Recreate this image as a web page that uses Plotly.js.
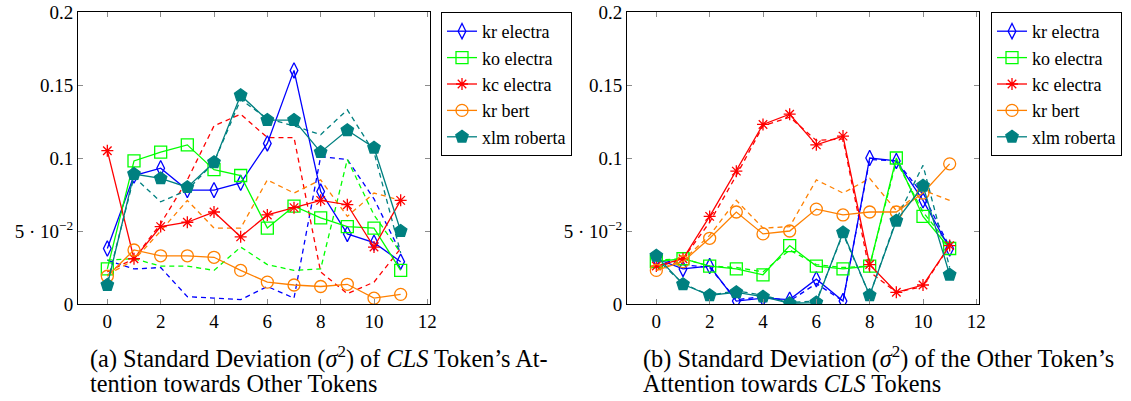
<!DOCTYPE html>
<html>
<head>
<meta charset="utf-8">
<script src="https://cdn.plot.ly/plotly-3.0.1.min.js"></script>
<style>html,body{margin:0;padding:0;background:#fff;}#chart{width:1131px;height:401px;}</style>
</head>
<body>
<div id="chart"></div>
<script>
// ---- data ----
const layers = [0,1,2,3,4,5,6,7,8,9,10,11];
const seriesNames = ["kr electra","ko electra","kc electra","kr bert","xlm roberta"];
const xTicks = [0,2,4,6,8,10,12];
const yTicks = [0,0.05,0.1,0.15,0.2];
const yTickText = ["0","5 · 10<sup>−2</sup>","0.1","0.15","0.2"];

// (a) CLS token's attention towards other tokens
const a_kr_electra      = [0.038,0.088,0.093,0.078,0.078,0.083,0.110,0.160,0.077,0.048,0.042,0.029];
const a_kr_electra_dash = [0.030,0.024,0.025,0.005,0.004,0.003,0.012,0.004,0.101,0.099,0.072,0.035];
const a_ko_electra      = [0.024,0.098,0.104,0.109,0.092,0.088,0.052,0.067,0.059,0.053,0.052,0.023];
const a_ko_electra_dash = [0.030,0.031,0.026,0.026,0.023,0.039,0.027,0.023,0.024,0.099,0.061,0.035];
const a_kc_electra      = [0.105,0.031,0.053,0.056,0.063,0.046,0.061,0.066,0.071,0.068,0.039,0.071];
const a_kc_electra_dash = [0.022,0.031,0.055,0.085,0.122,0.130,0.114,0.114,0.022,0.007,0.015,0.038];
const a_kr_bert         = [0.019,0.037,0.033,0.033,0.032,0.023,0.015,0.013,0.012,0.0135,0.004,0.0066];
const a_kr_bert_dash    = [0.020,0.030,0.050,0.071,0.052,0.052,0.085,0.076,0.085,0.060,0.076,0.071];
const a_xlm_roberta     = [0.013,0.089,0.086,0.080,0.097,0.143,0.126,0.126,0.104,0.119,0.107,0.050];
const a_xlm_roberta_dash= [0.015,0.087,0.070,0.078,0.097,0.140,0.127,0.122,0.116,0.133,0.104,0.035];

// (b) other tokens' attention towards CLS token
const b_kr_electra      = [0.031,0.024,0.026,0.002,0.004,0.003,0.017,0.002,0.100,0.098,0.071,0.038];
const b_kr_electra_dash = [0.031,0.027,0.025,0.003,0.005,0.002,0.014,0.002,0.099,0.098,0.075,0.039];
const b_ko_electra      = [0.029,0.031,0.026,0.024,0.020,0.040,0.026,0.024,0.026,0.100,0.060,0.038];
const b_ko_electra_dash = [0.030,0.031,0.026,0.025,0.022,0.037,0.027,0.025,0.026,0.098,0.063,0.040];
const b_kc_electra      = [0.026,0.031,0.060,0.091,0.123,0.130,0.109,0.115,0.027,0.008,0.013,0.040];
const b_kc_electra_dash = [0.025,0.031,0.056,0.088,0.122,0.128,0.112,0.113,0.022,0.008,0.012,0.040];
const b_kr_bert         = [0.023,0.029,0.045,0.063,0.048,0.050,0.065,0.061,0.063,0.063,0.076,0.096];
const b_kr_bert_dash    = [0.023,0.030,0.047,0.071,0.052,0.053,0.085,0.076,0.086,0.064,0.078,0.071];
const b_xlm_roberta     = [0.033,0.0135,0.006,0.008,0.005,0.0005,0.001,0.049,0.006,0.057,0.081,0.020];
const b_xlm_roberta_dash= [0.031,0.014,0.006,0.009,0.006,0.001,0.002,0.048,0.006,0.058,0.095,0.025];

// ---- styles ----
const colors  = ["#0000ff","#00ff00","#ff0000","#ff8000","#008080"];
const symbols = ["diamond-tall-open","square-open","asterisk-open","circle-open","pentagon"];
const msizes  = [11,12,10,12,13];

const aSolid = [a_kr_electra,a_ko_electra,a_kc_electra,a_kr_bert,a_xlm_roberta];
const aDash  = [a_kr_electra_dash,a_ko_electra_dash,a_kc_electra_dash,a_kr_bert_dash,a_xlm_roberta_dash];
const bSolid = [b_kr_electra,b_ko_electra,b_kc_electra,b_kr_bert,b_xlm_roberta];
const bDash  = [b_kr_electra_dash,b_ko_electra_dash,b_kc_electra_dash,b_kr_bert_dash,b_xlm_roberta_dash];

const traces = [];
function addPanel(solid, dash, xa, ya, leg){
  for (let i=0;i<seriesNames.length;i++){
    traces.push({
      x: layers, y: dash[i], xaxis: xa, yaxis: ya, type:'scatter', mode:'lines',
      name: seriesNames[i]+' (dashed)', legend: leg, showlegend: false,
      line:{color:colors[i], width:1.3, dash:'5px,4px'}
    });
  }
  for (let i=0;i<seriesNames.length;i++){
    traces.push({
      x: layers, y: solid[i], xaxis: xa, yaxis: ya, type:'scatter', mode:'lines+markers',
      name: seriesNames[i], legend: leg, showlegend: true,
      line:{color:colors[i], width:1.3},
      marker:{symbol:symbols[i], size:msizes[i], color:colors[i], line:{color:colors[i], width:1.3}}
    });
  }
}
addPanel(aSolid, aDash, 'x', 'y', 'legend');
addPanel(bSolid, bDash, 'x2', 'y2', 'legend2');

const W = 1131, H = 401;
const FONT = 'Liberation Serif';
const yDom = [(H-304)/H, (H-12)/H];

function xax(l, r){
  return {domain:[l/W, r/W], range:[-1.1,12.1], tickmode:'array', tickvals:xTicks,
    ticks:'inside', ticklen:5, tickcolor:'#8c8c8c', tickwidth:1,
    showline:true, linecolor:'#000', linewidth:1, mirror:'ticks',
    showgrid:false, zeroline:false, tickfont:{family:FONT, size:19, color:'#000'}, fixedrange:true};
}
function yax(){
  return {domain:yDom, range:[0,0.2], tickmode:'array', tickvals:yTicks, ticktext:yTickText,
    ticks:'inside', ticklen:5, tickcolor:'#8c8c8c', tickwidth:1,
    showline:true, linecolor:'#000', linewidth:1, mirror:'ticks',
    showgrid:false, zeroline:false, tickfont:{family:FONT, size:19, color:'#000'}, fixedrange:true};
}
function leg(xpx){
  return {x:xpx/W, y:(H-12)/H, xanchor:'left', yanchor:'top', bgcolor:'#fff',
    bordercolor:'#000', borderwidth:1, font:{family:FONT, size:18, color:'#000'},
    traceorder:'normal', itemwidth:30};
}

const xa = xax(78, 430); xa.anchor = 'y';
const ya = yax(); ya.anchor = 'x';
const xb = xax(627, 979); xb.anchor = 'y2';
const yb = yax(); yb.anchor = 'x2';

function cap(text, xpx, ypx){
  return {text:text, x:xpx/W, y:(H-ypx)/H, xref:'paper', yref:'paper', xanchor:'left', yanchor:'middle',
    showarrow:false, font:{family:FONT, size:24.3, color:'#000'}, align:'left'};
}

const layout = {
  width:W, height:H, margin:{l:0,r:0,t:0,b:0}, paper_bgcolor:'#fff', plot_bgcolor:'#fff',
  font:{family:FONT, color:'#000'},
  xaxis:xa, yaxis:ya, xaxis2:xb, yaxis2:yb,
  legend:leg(441), legend2:leg(991),
  annotations:[
    cap("(a) Standard Deviation (<i>σ</i><sup>2</sup>) of <i>CLS</i> Token’s At-", 88, 357),
    cap("tention towards Other Tokens", 88, 383),
    cap("(b) Standard Deviation (<i>σ</i><sup>2</sup>) of the Other Token’s", 641, 357),
    cap("Attention towards <i>CLS</i> Tokens", 641, 383)
  ]
};

Plotly.newPlot('chart', traces, layout, {staticPlot:true, displayModeBar:false});
</script>
</body>
</html>
